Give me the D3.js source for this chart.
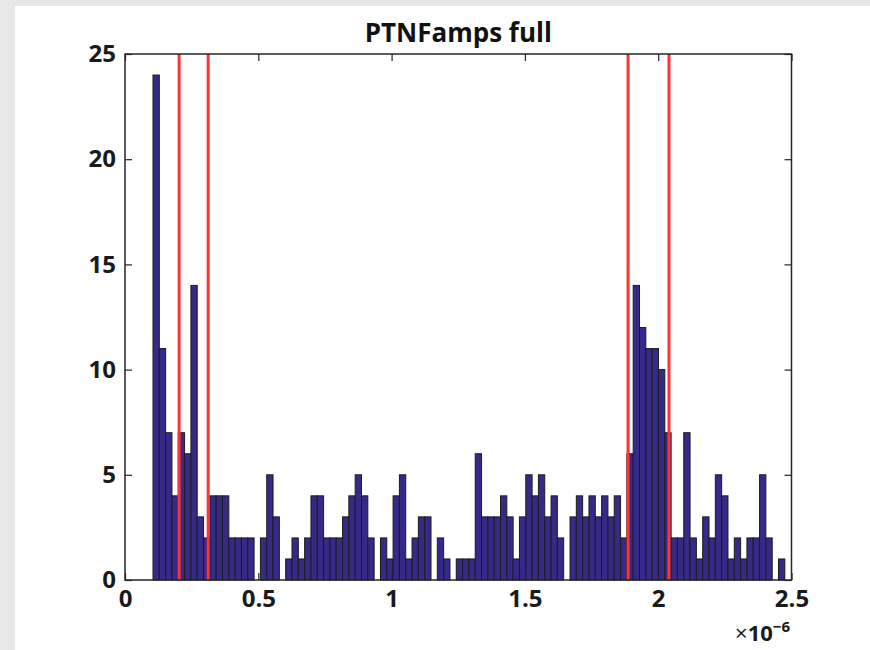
<!DOCTYPE html>
<html>
<head>
<meta charset="utf-8">
<script src="https://cdn.jsdelivr.net/npm/d3@7"></script>
<style>
  html, body { margin: 0; padding: 0; background: #e8e8e8; }
  svg { display: block; }
  .tick text { font-family: "Open Sans", "DejaVu Sans", sans-serif; font-weight: 700; }
</style>
</head>
<body>
<svg id="chart" width="870" height="650"></svg>
<script>
// Histogram of PTNFamps: 100 equal-width bins (amplitudes in units of 1e-6)
const binStart = 0.105;
const binWidth = 0.0237;
const counts = [
  24, 11, 7, 4, 7, 6, 14, 3, 2, 4,
  4, 4, 2, 2, 2, 2, 0, 2, 5, 3,
  0, 1, 2, 1, 2, 4, 4, 2, 2, 2,
  3, 4, 5, 4, 2, 0, 2, 1, 4, 5,
  1, 2, 3, 3, 0, 2, 1, 0, 1, 1,
  1, 6, 3, 3, 3, 4, 3, 1, 3, 5,
  4, 5, 3, 4, 2, 0, 3, 4, 3, 4,
  3, 4, 3, 4, 2, 6, 14, 12, 11, 11,
  10, 7, 2, 2, 7, 2, 1, 3, 2, 5,
  4, 1, 2, 1, 2, 2, 5, 2, 0, 1
];
// Threshold markers
const thresholds = [0.203, 0.312, 1.887, 2.0405];

const xTicks = [0, 0.5, 1, 1.5, 2, 2.5];
const yTicks = [0, 5, 10, 15, 20, 25];

const svg = d3.select("#chart");

// Figure background (white panel inside grey window frame)
svg.append("rect").attr("x", 15).attr("y", 6).attr("width", 855).attr("height", 644).attr("fill", "#ffffff");

const plotL = 125, plotR = 791.5, plotT = 54, plotB = 580;
const x = d3.scaleLinear().domain([0, 2.5]).range([plotL, plotR]);
const y = d3.scaleLinear().domain([0, 25]).range([plotB, plotT]);

const bins = counts.map((c, i) => ({ x0: binStart + i * binWidth, x1: binStart + (i + 1) * binWidth, count: c }));

// Bars
svg.append("g")
  .selectAll("rect")
  .data(bins.filter(d => d.count > 0))
  .join("rect")
  .attr("x", d => x(d.x0))
  .attr("width", d => x(d.x1) - x(d.x0))
  .attr("y", d => y(d.count))
  .attr("height", d => y(0) - y(d.count))
  .attr("fill", "#352a87")
  .attr("stroke", "#1c1c1c")
  .attr("stroke-width", 1);

// Vertical threshold lines
svg.append("g")
  .selectAll("line")
  .data(thresholds)
  .join("line")
  .attr("x1", d => x(d)).attr("x2", d => x(d))
  .attr("y1", y(0)).attr("y2", y(25))
  .attr("stroke", "#ff3333")
  .attr("stroke-width", 3);

const axisColor = "#262626";
function styleAxis(g) {
  g.select(".domain").remove();
  g.selectAll(".tick line").attr("stroke", axisColor).attr("stroke-width", 1.2);
  g.selectAll(".tick text").attr("fill", "#1a1a1a").style("font-size", "24px");
}

// Bottom axis with labels
svg.append("g")
  .attr("transform", `translate(0,${plotB})`)
  .call(d3.axisBottom(x).tickValues(xTicks).tickFormat(d3.format("")).tickSizeInner(-7).tickSizeOuter(0).tickPadding(10))
  .call(styleAxis);

// Left axis with labels
svg.append("g")
  .attr("transform", `translate(${plotL},0)`)
  .call(d3.axisLeft(y).tickValues(yTicks).tickFormat(d3.format("")).tickSizeInner(-7).tickSizeOuter(0).tickPadding(9))
  .call(styleAxis);

// Top and right axes: ticks only
svg.append("g")
  .attr("transform", `translate(0,${plotT})`)
  .call(d3.axisTop(x).tickValues(xTicks).tickFormat("").tickSizeInner(-7).tickSizeOuter(0))
  .call(styleAxis);
svg.append("g")
  .attr("transform", `translate(${plotR},0)`)
  .call(d3.axisRight(y).tickValues(yTicks).tickFormat("").tickSizeInner(-7).tickSizeOuter(0))
  .call(styleAxis);

// Axes box
svg.append("rect")
  .attr("x", plotL).attr("y", plotT)
  .attr("width", plotR - plotL).attr("height", plotB - plotT)
  .attr("fill", "none")
  .attr("stroke", axisColor)
  .attr("stroke-width", 1.5);

// Exponent label
const expo = svg.append("text")
  .attr("x", 790).attr("y", 641)
  .attr("text-anchor", "end")
  .attr("fill", "#1a1a1a")
  .style("font-family", "'Open Sans', 'DejaVu Sans', sans-serif")
  .style("font-weight", "700")
  .style("font-size", "22px");
expo.append("tspan").style("font-weight", "400").text("×");
expo.append("tspan").text("10");
expo.append("tspan").attr("dy", -9).style("font-size", "15px").text("−6");

// Title
svg.append("text")
  .attr("x", (plotL + plotR) / 2).attr("y", 42)
  .attr("text-anchor", "middle")
  .attr("fill", "#111")
  .style("font-family", "'Open Sans', 'DejaVu Sans', sans-serif")
  .style("font-weight", "700")
  .style("font-size", "26px")
  .text("PTNFamps full");
</script>
</body>
</html>
